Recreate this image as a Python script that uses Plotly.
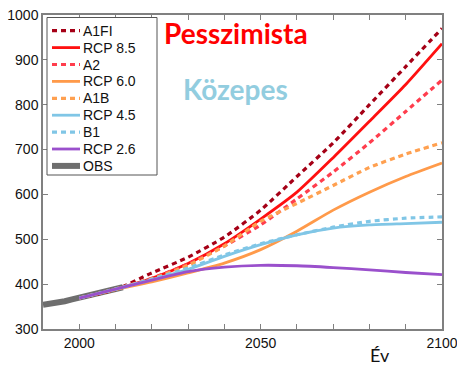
import plotly.graph_objects as go

# Scenario years (decadal) and atmospheric CO2 concentration (ppm)
years = [2000, 2010, 2020, 2030, 2040, 2050, 2060, 2070, 2080, 2090, 2100]

a1fi = [369, 388, 425, 460, 505, 565, 640, 715, 800, 885, 970]
rcp85 = [369, 389, 413, 446, 490, 545, 605, 682, 763, 845, 936]
a2 = [369, 389, 413, 445, 485, 532, 590, 650, 715, 785, 855]
rcp60 = [369, 388, 405, 425, 447, 477, 518, 565, 605, 640, 670]
a1b = [369, 389, 412, 442, 485, 540, 580, 620, 660, 690, 715]
rcp45 = [369, 389, 410, 433, 462, 488, 510, 525, 532, 535, 538]
b1 = [369, 389, 411, 436, 465, 490, 510, 527, 540, 547, 550]
rcp26 = [369, 389, 409, 428, 438, 442, 441, 437, 432, 426, 421]

# Observed record
obs_years = [1990, 1992, 1994, 1996, 1998, 2000, 2002, 2004, 2006, 2008, 2010, 2012]
obs = [354, 356, 358, 362, 366, 370, 373, 377, 381, 385, 389, 393]

x_ticks = [2000, 2050, 2100]
y_ticks = [300, 400, 500, 600, 700, 800, 900, 1000]

DASH = "5px,4px"
series = [
    ("A1FI", a1fi, "#a50016", DASH, 3.2),
    ("RCP 8.5", rcp85, "#ff1010", "solid", 2.8),
    ("A2", a2, "#ff3d4d", DASH, 3.2),
    ("RCP 6.0", rcp60, "#ff9a4a", "solid", 2.8),
    ("A1B", a1b, "#ffa050", DASH, 3.2),
    ("RCP 4.5", rcp45, "#80c6e6", "solid", 2.8),
    ("B1", b1, "#80c6e6", DASH, 3.2),
    ("RCP 2.6", rcp26, "#9a50cc", "solid", 2.8),
]
obs_style = ("OBS", "#6e6e6e", "solid", 6)

W, H = 457, 365
ML, MR, MT, MB = 43, 15, 15, 36


def px_to_paper(px, py):
    """Convert page pixel position to paper coordinates."""
    return (px - ML) / (W - ML - MR), 1 - (py - MT) / (H - MT - MB)


fig = go.Figure()
# observations drawn first so the scenario lines sit on top of them
fig.add_trace(go.Scatter(
    x=obs_years, y=obs, name=obs_style[0], mode="lines",
    line=dict(color=obs_style[1], width=obs_style[3]),
))
for name, vals, color, dash, width in series:
    fig.add_trace(go.Scatter(
        x=years, y=vals, name=name, mode="lines",
        line=dict(color=color, dash=dash, width=width, shape="spline", smoothing=0.6),
    ))

font = "Liberation Sans, Arial, sans-serif"
axis_common = dict(
    showgrid=False, zeroline=False, automargin=False,
    showline=True, linecolor="#808080", linewidth=1.5,
    mirror="ticks", ticks="inside", ticklen=5, tickcolor="#808080",
    tickfont=dict(family=font, size=14, color="#111"),
)
fig.update_xaxes(
    range=[1990, 2100], tickvals=x_ticks, ticklabeloverflow="allow",
    minor=dict(dtick=10, tick0=2000, ticks="inside", ticklen=5, tickcolor="#808080"),
    **axis_common,
)
fig.update_yaxes(range=[300, 1000], tickvals=y_ticks, **axis_common)

# Legend box with compact rows
shapes = []
bx0, by0 = px_to_paper(47, 17.5)
bx1, by1 = px_to_paper(157, 175)
shapes.append(dict(type="rect", xref="paper", yref="paper", x0=bx0, y0=by0, x1=bx1, y1=by1,
                   line=dict(color="#555", width=1), fillcolor="white", layer="above"))
annotations = []
legend_rows = [(n, c, d, w) for n, _, c, d, w in series] + [obs_style]
for i, (name, color, dash, width) in enumerate(legend_rows):
    ry = 30.7 + 16.9 * i
    lx0, ly = px_to_paper(52, ry)
    lx1, _ = px_to_paper(80, ry)
    shapes.append(dict(type="line", xref="paper", yref="paper", x0=lx0, y0=ly, x1=lx1, y1=ly,
                       line=dict(color=color, dash=dash, width=width), layer="above"))
    tx, _ = px_to_paper(81, ry)
    annotations.append(dict(x=tx, y=ly, xref="paper", yref="paper", text=name,
                            xanchor="left", yanchor="middle", showarrow=False,
                            font=dict(family=font, size=14, color="#111")))

annotations.append(dict(x=2043.2, y=960, xref="x", yref="y", text="<b>Pesszimista</b>",
                        xanchor="center", yanchor="middle", showarrow=False,
                        font=dict(family="Lato", size=28, color="#ff0000")))
annotations.append(dict(x=2043.2, y=836, xref="x", yref="y", text="<b>Közepes</b>",
                        xanchor="center", yanchor="middle", showarrow=False,
                        font=dict(family="Lato", size=28, color="#92cddf")))
ex, ey = px_to_paper(380, 355)
annotations.append(dict(x=ex, y=ey, xref="paper", yref="paper", text="Év",
                        xanchor="center", yanchor="middle", showarrow=False,
                        font=dict(family="Lato", size=18, color="#111")))
ux, uy = px_to_paper(133, -1.5)
annotations.append(dict(x=ux, y=uy, xref="paper", yref="paper", text="(ppm)",
                        xanchor="center", yanchor="bottom", showarrow=False,
                        font=dict(family=font, size=14, color="#111")))

fig.update_layout(
    width=W, height=H,
    margin=dict(l=ML, r=MR, t=MT, b=MB, autoexpand=False),
    paper_bgcolor="white", plot_bgcolor="white",
    showlegend=False,
    shapes=shapes,
    annotations=annotations,
)

fig.write_html("out.html")
